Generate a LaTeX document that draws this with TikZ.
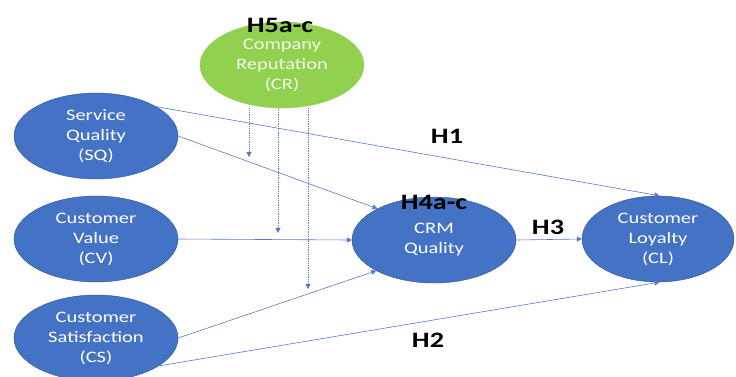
\documentclass[tikz,border=0pt]{standalone}
\usepackage{fontspec}
\setmainfont[FakeStretch=1.28]{Carlito}
\usetikzlibrary{shapes.geometric,arrows.meta}
\definecolor{nodeblue}{HTML}{4472C4}
\definecolor{edgeblue}{HTML}{2F528F}
\definecolor{nodegreen}{HTML}{92D050}
\definecolor{linkblue}{HTML}{5B78C6}
\begin{document}
\begin{tikzpicture}[x=1pt,y=-1pt,>={Triangle[length=5pt,width=5pt]},
    construct/.style={ellipse,draw=edgeblue,fill=nodeblue,text=white,minimum width=164pt,
      minimum height=86pt,inner sep=0pt,align=center,font=\fontsize{16}{20}\selectfont},
    link/.style={->,draw=linkblue,line width=0.6pt},
    moderate/.style={->,draw=linkblue,densely dotted,line width=0.8pt},
    hyp/.style={font=\fontsize{22}{24}\selectfont\bfseries,text=black,inner sep=0pt}]
    \useasboundingbox (0,0) rectangle (736,376);
    \node[construct] (sq) at (96,136) {Service\\Quality\\(SQ)};
    \node[construct] (cv) at (96,239) {Customer\\Value\\(CV)};
    \node[construct] (cs) at (96,338) {Customer\\Satisfaction\\(CS)};
    \node[construct,fill=nodegreen,draw=nodegreen,text=white!88!nodegreen] (cr) at (282,65) {Company\\Reputation\\(CR)};
    \node[construct] (crm) at (434,240) {CRM\\Quality};
    \node[construct,minimum width=152pt] (cl) at (658,239) {Customer\\Loyalty\\(CL)};
    % direct paths
    \draw[link] (sq.26) -- (cl.88);
    \draw[link] (sq.0) -- (crm.151);
    \draw[link] (cv.east) -- (crm.west);
    \draw[link] (cs.0) -- (crm.208);
    \draw[link] (cs.-24) -- (cl.-88);
    \draw[link] (crm.east) -- (cl.west);
    % moderation by reputation
    \coordinate (m1) at (249,157);
    \coordinate (m2) at (278,233);
    \coordinate (m3) at (308,289);
    \draw[moderate] (cr.south -| m1) -- (m1);
    \draw[moderate] (cr.south -| m2) -- (m2);
    \draw[moderate] (cr.south -| m3) -- (m3);
    \node[hyp] (h5) at (280,25) {H5a-c};
    \node[hyp] (h1) at (447,136) {H1};
    \node[hyp] (h4) at (434,202) {H4a-c};
    \node[hyp] (h3) at (548,227) {H3};
    \node[hyp] (h2) at (428,340) {H2};
  \end{tikzpicture}
\end{document}
